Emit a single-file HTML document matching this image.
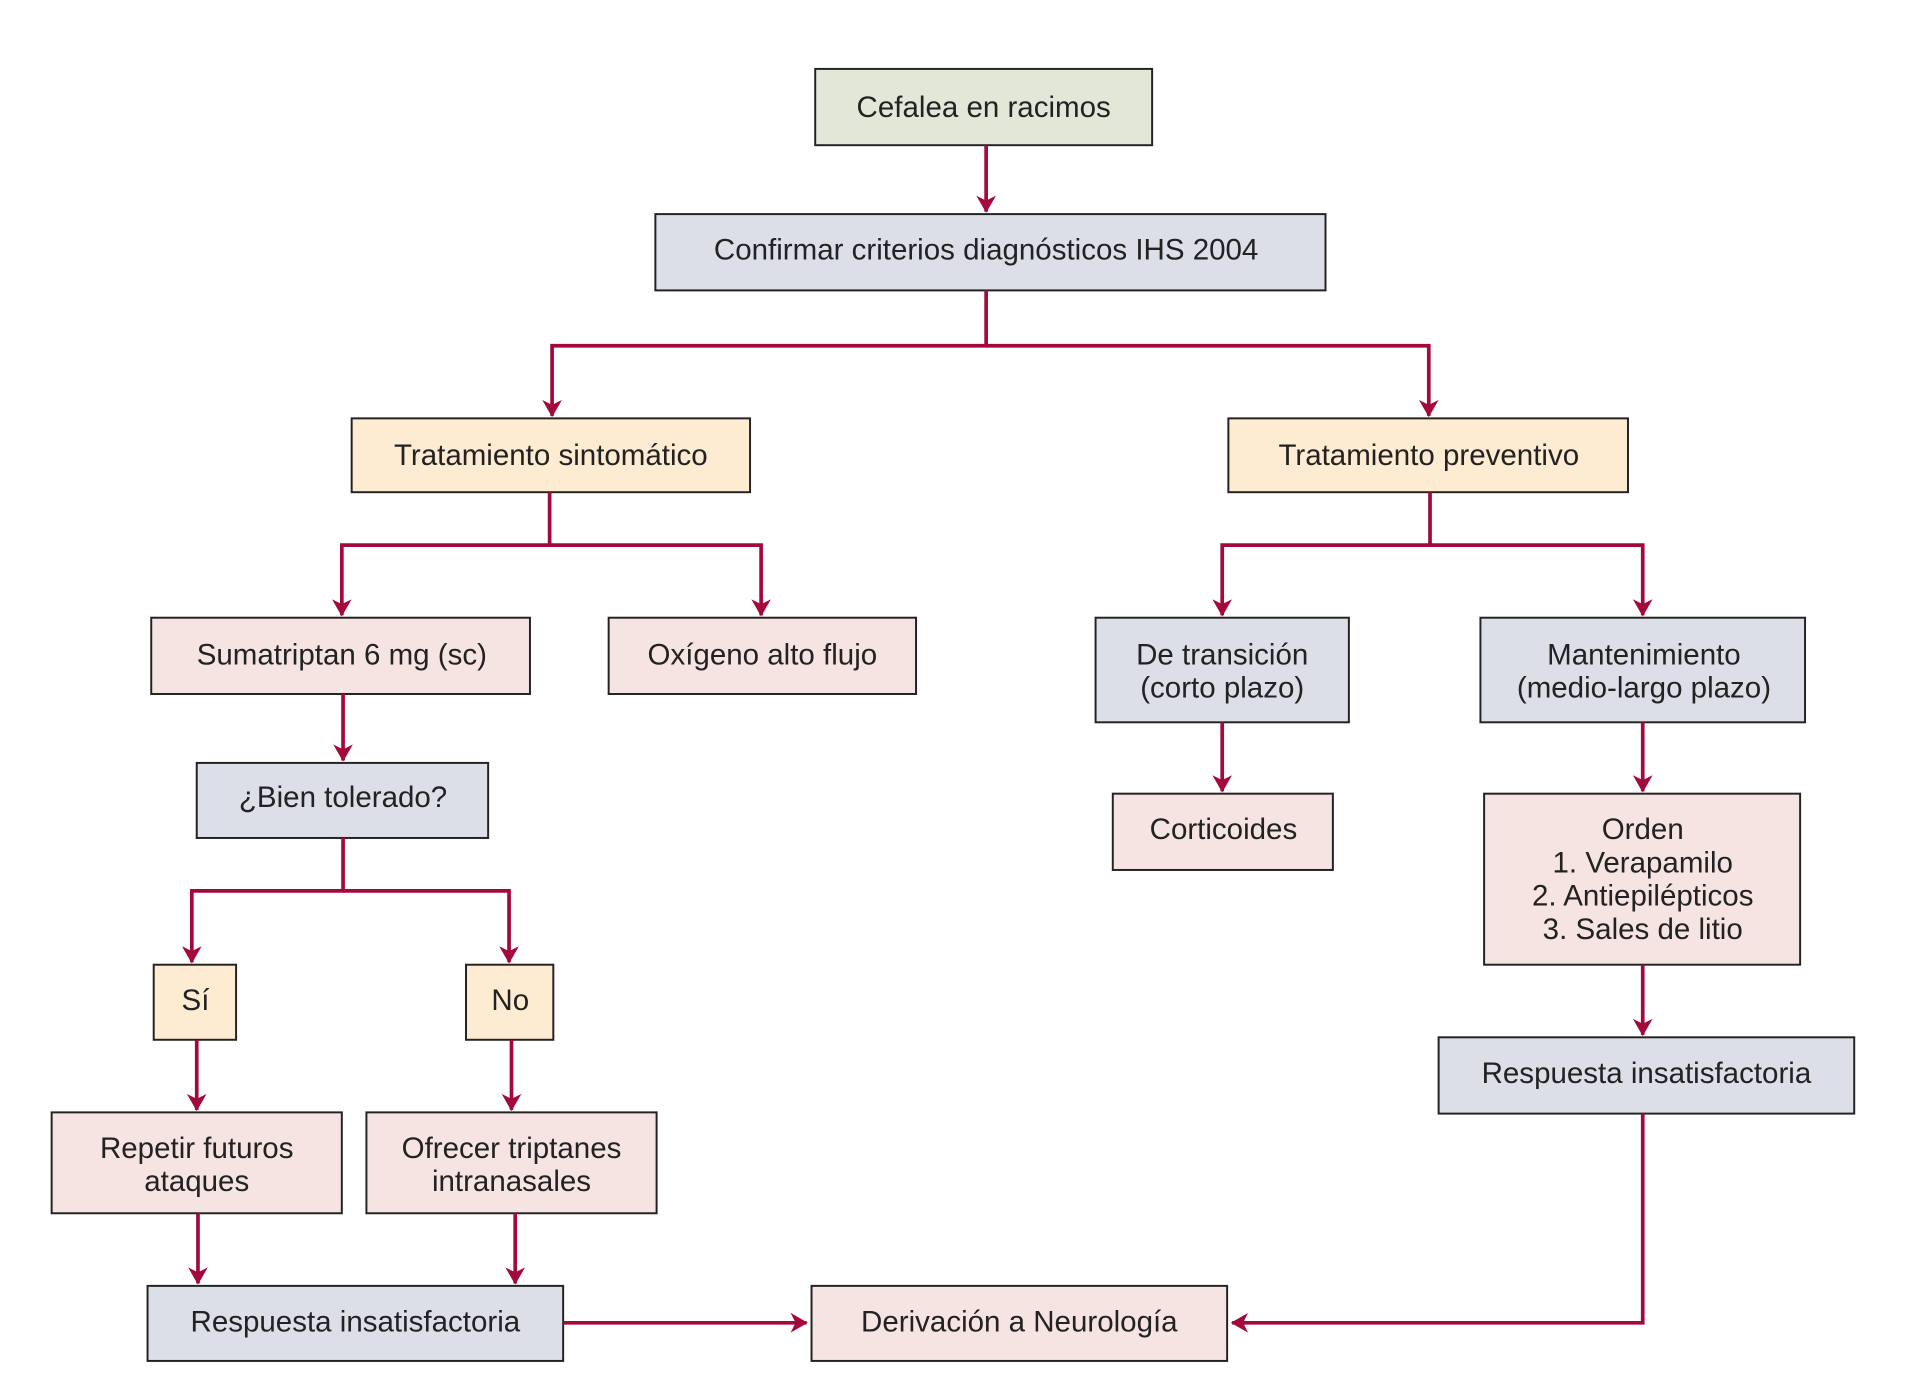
<!DOCTYPE html>
<html><head><meta charset="utf-8"><style>html,body{margin:0;padding:0;background:#fff}svg{display:block}</style></head>
<body>
<svg width="1928" height="1388" viewBox="0 0 1568 1128" preserveAspectRatio="none" xmlns="http://www.w3.org/2000/svg">
<defs>
<marker id="a" markerWidth="14" markerHeight="16" refX="13" refY="8" orient="auto" markerUnits="userSpaceOnUse" viewBox="0 0 14 16">
<path d="M0,0 L14,8 L0,16 L4,8 Z" fill="#a3093a"/>
</marker>
</defs>
<g stroke="#222" stroke-width="1.6">
<rect x="663" y="56" width="274" height="62" fill="#e3e7d8"/>
<rect x="533" y="174" width="545" height="62" fill="#dcdee8"/>
<rect x="286" y="340" width="324" height="60" fill="#fdebd2"/>
<rect x="999" y="340" width="325" height="60" fill="#fdebd2"/>
<rect x="123" y="502" width="308" height="62" fill="#f5e4e2"/>
<rect x="495" y="502" width="250" height="62" fill="#f5e4e2"/>
<rect x="891" y="502" width="206" height="85" fill="#dcdee8"/>
<rect x="1204" y="502" width="264" height="85" fill="#dcdee8"/>
<rect x="160" y="620" width="237" height="61" fill="#dcdee8"/>
<rect x="905" y="645" width="179" height="62" fill="#f5e4e2"/>
<rect x="1207" y="645" width="257" height="139" fill="#f5e4e2"/>
<rect x="125" y="784" width="67" height="61" fill="#fdebd2"/>
<rect x="379" y="784" width="71" height="61" fill="#fdebd2"/>
<rect x="1170" y="843" width="338" height="62" fill="#dcdee8"/>
<rect x="42" y="904" width="236" height="82" fill="#f5e4e2"/>
<rect x="298" y="904" width="236" height="82" fill="#f5e4e2"/>
<rect x="120" y="1045" width="338" height="61" fill="#dcdee8"/>
<rect x="660" y="1045" width="338" height="61" fill="#f5e4e2"/>
</g>
<g stroke="#a3093a" stroke-width="3" fill="none">
<path d="M802 118 V172" marker-end="url(#a)"/>
<path d="M802 236 V281 H449 V338" marker-end="url(#a)"/>
<path d="M802 281 H1162 V338" marker-end="url(#a)"/>
<path d="M447 400 V443 H278 V500" marker-end="url(#a)"/>
<path d="M447 443 H619 V500" marker-end="url(#a)"/>
<path d="M1163 400 V443 H994 V500" marker-end="url(#a)"/>
<path d="M1163 443 H1336 V500" marker-end="url(#a)"/>
<path d="M279 564 V618" marker-end="url(#a)"/>
<path d="M279 681 V724 H156 V782" marker-end="url(#a)"/>
<path d="M279 724 H414 V782" marker-end="url(#a)"/>
<path d="M994 587 V643" marker-end="url(#a)"/>
<path d="M1336 587 V643" marker-end="url(#a)"/>
<path d="M1336 784 V841" marker-end="url(#a)"/>
<path d="M160 845 V902" marker-end="url(#a)"/>
<path d="M416 845 V902" marker-end="url(#a)"/>
<path d="M161 986 V1043" marker-end="url(#a)"/>
<path d="M419 986 V1043" marker-end="url(#a)"/>
<path d="M458 1075 H656" marker-end="url(#a)"/>
<path d="M1336 905 V1075 H1002" marker-end="url(#a)"/>
</g>
<g font-family="Liberation Sans, sans-serif" font-size="24" fill="#222" text-anchor="middle">
<text x="800" y="95">Cefalea en racimos</text>
<text x="802" y="211">Confirmar criterios diagnósticos IHS 2004</text>
<text x="448" y="378">Tratamiento sintomático</text>
<text x="1162" y="378">Tratamiento preventivo</text>
<text x="278" y="540">Sumatriptan 6 mg (sc)</text>
<text x="620" y="540">Oxígeno alto flujo</text>
<text x="994" y="540">De transición</text>
<text x="994" y="567">(corto plazo)</text>
<text x="1337" y="540">Mantenimiento</text>
<text x="1337" y="567">(medio-largo plazo)</text>
<text x="279" y="656">¿Bien tolerado?</text>
<text x="995" y="682">Corticoides</text>
<text x="1336" y="682">Orden</text>
<text x="1336" y="709">1. Verapamilo</text>
<text x="1336" y="736">2. Antiepilépticos</text>
<text x="1336" y="763">3. Sales de litio</text>
<text x="159" y="821">Sí</text>
<text x="415" y="821">No</text>
<text x="1339" y="880">Respuesta insatisfactoria</text>
<text x="160" y="941">Repetir futuros</text>
<text x="160" y="968">ataques</text>
<text x="416" y="941">Ofrecer triptanes</text>
<text x="416" y="968">intranasales</text>
<text x="289" y="1082">Respuesta insatisfactoria</text>
<text x="829" y="1082">Derivación a Neurología</text>
</g>
</svg>
</body></html>
